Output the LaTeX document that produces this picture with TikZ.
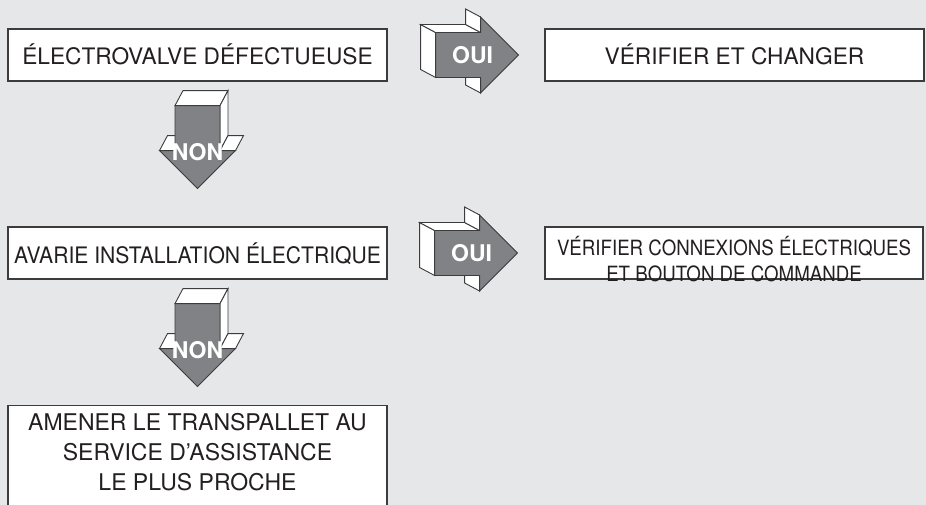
\documentclass[tikz,border=0pt]{standalone}
\usepackage{fontspec}
\setmainfont{TeX Gyre Heros}
\newfontfamily\tightfont[FakeStretch=0.93]{TeX Gyre Heros}
\newfontfamily\narrowfont[FakeStretch=0.89]{TeX Gyre Heros}
\usetikzlibrary{calc}
\definecolor{bgcol}{RGB}{230,231,232}
\definecolor{inkcol}{RGB}{35,31,32}
\definecolor{arrowcol}{RGB}{128,130,133}
\definecolor{edgecol}{RGB}{60,60,62}

\newcommand{\blockarrow}[5]{%
\begin{scope}[shift={#2},rotate=#1]
\filldraw[arrowback] (-45,-22.5) -- (-60,-30.5) -- (-60,14.5) -- (-45,22.5) -- cycle;
\filldraw[arrowback] (-45,-22.5) -- (-60,-30.5) -- (-15,-30.5) -- (0,-22.5) -- cycle;
\filldraw[arrowback] (0,-22.5) -- (-15,-30.5) -- (-15,-46) -- (0,-38) -- cycle;
\filldraw[arrowback] (0,22.5) -- (0,38) -- (-15,30) -- (-15,14.5) -- cycle;
\filldraw[arrowfront] (-45,-22.5) -- (0,-22.5) -- (0,-38) -- (38,0) -- (0,38) -- (0,22.5) -- (-45,22.5) -- cycle;
\node[arrowlabel] (#3) at (#4,0) {#5};
\end{scope}}

\begin{document}
\begin{tikzpicture}[x=1pt,y=-1pt,
  box/.style={draw=edgecol,line width=1.2pt,fill=white,text=inkcol,inner sep=0pt,
    minimum width=379pt,minimum height=52pt,text height=20pt,text depth=0pt,
    font=\fontsize{22.7}{27}\selectfont},
  arrowback/.style={draw=edgecol,line width=.9pt,fill=white},
  arrowfront/.style={draw=edgecol,line width=.9pt,fill=arrowcol},
  arrowlabel/.style={text=white,inner sep=0pt,font=\bfseries\fontsize{23}{23}\selectfont}]
\path[fill=bgcol,use as bounding box] (0,0) rectangle (926,505);
\clip (0,0) rectangle (926,505);
\node[box] (electro) at (197.5,55) {ÉLECTROVALVE DÉFECTUEUSE};
\node[box] (verif) at (734.5,55) {VÉRIFIER ET CHANGER};
\node[box,font=\tightfont\fontsize{22.7}{27}\selectfont] (avarie) at (197.5,253) {AVARIE INSTALLATION ÉLECTRIQUE};
\node[box,minimum width=378pt,text height=28pt,text depth=24pt,
  font=\narrowfont\fontsize{21}{26}\selectfont] (connex) at (734,253)
  {\begin{tabular}[t]{@{}c@{}}VÉRIFIER CONNEXIONS ÉLECTRIQUES\\ET BOUTON DE COMMANDE\end{tabular}};
\node[box,anchor=north,text height=25pt,text depth=110pt,
  font=\fontsize{23}{30}\selectfont] (amener) at (197.5,405)
  {\begin{tabular}[t]{@{}c@{}}AMENER LE TRANSPALLET AU\\SERVICE D’ASSISTANCE\\LE PLUS PROCHE\end{tabular}};
\blockarrow{0}{($(electro.east)+(93,0)$)}{oui1}{-8}{OUI}
\blockarrow{-90}{($(electro.south)+(0,69)$)}{non1}{2}{NON}
\blockarrow{0}{($(avarie.east)+(92,0)$)}{oui2}{-8}{OUI}
\blockarrow{-90}{($(avarie.south)+(0,69)$)}{non2}{2}{NON}
\end{tikzpicture}
\end{document}
